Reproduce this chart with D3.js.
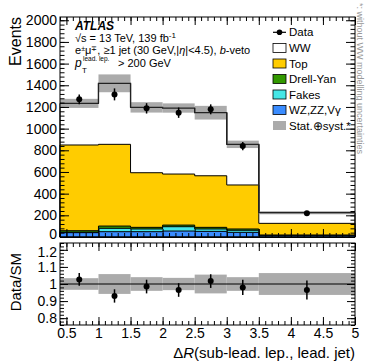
<!DOCTYPE html>
<html>
<head>
<meta charset="utf-8">
<script src="https://cdn.jsdelivr.net/npm/d3@7"></script>
<style>
  body { margin: 0; background: #fff; }
  svg { display: block; font-family: "Liberation Sans", Arial, Helvetica, sans-serif; }
</style>
</head>
<body>
<svg id="chart" width="374" height="363"></svg>
<script>
// bins of Delta R (sub-lead. lep., lead. jet)
var binEdges = [0.4, 1, 1.5, 2, 2.5, 3, 3.5, 5];

// stacked backgrounds, bottom to top
var wzzzvg = [40, 49, 49, 55, 52, 43, 12];
var fakes  = [4, 31, 25, 40, 22, 19, 3];
var drellYan = [14, 21, 15, 15, 15, 12, 3];
var top_   = [791, 754, 504, 471, 476, 406, 108];
var ww     = [384, 563, 603, 609, 582, 375, 98];

// observed data
var dataVals = [1270, 1316, 1187, 1147, 1178, 839, 218];

// relative stat+syst uncertainty of the prediction
var relUnc = [0.034, 0.058, 0.04, 0.036, 0.055, 0.04, 0.064];

// ratio panel
var ratioVals = [1.027, 0.93, 0.985, 0.965, 1.017, 0.98, 0.965];
var ratioErr  = [0.037, 0.039, 0.04, 0.04, 0.04, 0.045, 0.055];

var xTicks = [0.5, 1, 1.5, 2, 2.5, 3, 3.5, 4, 4.5, 5];
var yTicksTop = [0, 200, 400, 600, 800, 1000, 1200, 1400, 1600, 1800, 2000];
var yTicksRatio = [0.8, 0.9, 1, 1.1, 1.2];

var legendItems = [
  { name: "Data", kind: "data" },
  { name: "WW", color: "#ffffff" },
  { name: "Top", color: "#ffcc00" },
  { name: "Drell-Yan", color: "#339900" },
  { name: "Fakes", color: "#45e6e6" },
  { name: "WZ,ZZ,V\u03b3", color: "#3a8cff" },
  { name: "Stat.\u2295syst.*", color: "#ababab", kind: "band" }
];

var svg = d3.select("#chart");

var L = 60, R = 355, T1 = 17, B1 = 237, T2 = 243, B2 = 325;

var x = d3.scaleLinear().domain([0.4, 5]).range([L, R]);
var y = d3.scaleLinear().domain([0, 2030]).range([B1, T1]);
var yr = d3.scaleLinear().domain([0.76, 1.24]).range([B2, T2]);

var nb = dataVals.length;
var centers = d3.range(nb).map(function(i) { return (binEdges[i] + binEdges[i + 1]) / 2; });

// cumulative stacks
var layers = [wzzzvg, fakes, drellYan, top_, ww];
var layerColors = ["#3a8cff", "#45e6e6", "#339900", "#ffcc00", "#ffffff"];
var cum = [];
var run = d3.range(nb).map(function() { return 0; });
layers.forEach(function(l) {
  run = run.map(function(v, i) { return v + l[i]; });
  cum.push(run.slice());
});
var total = cum[cum.length - 1];

function stepPoints(vals) {
  var pts = vals.map(function(v, i) { return [binEdges[i], v]; });
  pts.push([binEdges[nb], vals[nb - 1]]);
  return pts;
}

var area = d3.area()
  .curve(d3.curveStepAfter)
  .x(function(d) { return x(d[0]); })
  .y0(y(0))
  .y1(function(d) { return y(d[1]); });

var line = d3.line()
  .curve(d3.curveStepAfter)
  .x(function(d) { return x(d[0]); })
  .y(function(d) { return y(d[1]); });

var plot = svg.append("g");

// draw from the top layer down so lower layers sit in front
for (var k = cum.length - 1; k >= 0; k--) {
  plot.append("path")
    .attr("d", area(stepPoints(cum[k])))
    .attr("fill", layerColors[k])
    .attr("stroke", "#000")
    .attr("stroke-width", 1);
}

// uncertainty band
plot.selectAll(".band")
  .data(d3.range(nb))
  .enter().append("rect")
  .attr("x", function(i) { return x(binEdges[i]); })
  .attr("width", function(i) { return x(binEdges[i + 1]) - x(binEdges[i]); })
  .attr("y", function(i) { return y(total[i] * (1 + relUnc[i])); })
  .attr("height", function(i) { return y(total[i] * (1 - relUnc[i])) - y(total[i] * (1 + relUnc[i])); })
  .attr("fill", "#ababab");

plot.append("path")
  .attr("d", line(stepPoints(total)))
  .attr("fill", "none")
  .attr("stroke", "#222")
  .attr("stroke-width", 1.2);

// vertical edges of the total outline
plot.selectAll(".edge")
  .data(d3.range(1, nb))
  .enter().append("line")
  .attr("x1", function(i) { return x(binEdges[i]); })
  .attr("x2", function(i) { return x(binEdges[i]); })
  .attr("y1", function(i) { return y(total[i - 1]); })
  .attr("y2", function(i) { return y(total[i]); })
  .attr("stroke", "#222")
  .attr("stroke-width", 1.2);

// data points
plot.selectAll(".derr")
  .data(d3.range(nb))
  .enter().append("line")
  .attr("x1", function(i) { return x(centers[i]); })
  .attr("x2", function(i) { return x(centers[i]); })
  .attr("y1", function(i) { return y(dataVals[i] + ratioErr[i] * total[i]); })
  .attr("y2", function(i) { return y(dataVals[i] - ratioErr[i] * total[i]); })
  .attr("stroke", "#000")
  .attr("stroke-width", 1.5);

plot.selectAll(".dot")
  .data(d3.range(nb))
  .enter().append("circle")
  .attr("cx", function(i) { return x(centers[i]); })
  .attr("cy", function(i) { return y(dataVals[i]); })
  .attr("r", 3)
  .attr("fill", "#000");

// ratio panel
var rat = svg.append("g");
rat.selectAll(".rband")
  .data(d3.range(nb))
  .enter().append("rect")
  .attr("x", function(i) { return x(binEdges[i]); })
  .attr("width", function(i) { return x(binEdges[i + 1]) - x(binEdges[i]); })
  .attr("y", function(i) { return yr(1 + relUnc[i]); })
  .attr("height", function(i) { return yr(1 - relUnc[i]) - yr(1 + relUnc[i]); })
  .attr("fill", "#ababab");

rat.append("line")
  .attr("x1", L).attr("x2", R)
  .attr("y1", yr(1)).attr("y2", yr(1))
  .attr("stroke", "#000").attr("stroke-width", 1.2);

rat.selectAll(".rerr")
  .data(d3.range(nb))
  .enter().append("line")
  .attr("x1", function(i) { return x(centers[i]); })
  .attr("x2", function(i) { return x(centers[i]); })
  .attr("y1", function(i) { return yr(ratioVals[i] + ratioErr[i]); })
  .attr("y2", function(i) { return yr(ratioVals[i] - ratioErr[i]); })
  .attr("stroke", "#000")
  .attr("stroke-width", 1.5);

rat.selectAll(".rdot")
  .data(d3.range(nb))
  .enter().append("circle")
  .attr("cx", function(i) { return x(centers[i]); })
  .attr("cy", function(i) { return yr(ratioVals[i]); })
  .attr("r", 3)
  .attr("fill", "#000");

// axes: ticks point inwards on all four sides
function ticks(axis, tx, ty, labels) {
  var g = svg.append("g").attr("transform", "translate(" + tx + "," + ty + ")").call(axis);
  g.select(".domain").remove();
  g.selectAll("line").attr("stroke", "#000");
  g.selectAll("text").attr("font-size", 14).attr("fill", "#000")
    .attr("font-family", "Liberation Sans, Arial, sans-serif");
  if (!labels) g.selectAll("text").remove();
  return g;
}

var xMinor = d3.range(4, 51).map(function(d) { return d / 10; });
var yMinorTop = d3.range(0, 2030, 40);
var yMinorRatio = d3.range(76, 125, 2).map(function(d) { return d / 100; });

// upper panel
ticks(d3.axisBottom(x).tickValues(xTicks).tickSize(-8), 0, B1, false);
ticks(d3.axisBottom(x).tickValues(xMinor).tickSize(-4), 0, B1, false);
ticks(d3.axisTop(x).tickValues(xTicks).tickSize(-8), 0, T1, false);
ticks(d3.axisTop(x).tickValues(xMinor).tickSize(-4), 0, T1, false);
var yl = ticks(d3.axisLeft(y).tickValues(yTicksTop).tickSize(-9).tickPadding(3).tickFormat(d3.format("d")), L, 0, true);
// the "0" sits just above the ratio panel, as in the original
yl.selectAll("text").filter(function(d) { return d === 0; }).attr("dy", "0.1em");
ticks(d3.axisLeft(y).tickValues(yMinorTop).tickSize(-4.5), L, 0, false);
ticks(d3.axisRight(y).tickValues(yTicksTop).tickSize(-9), R, 0, false);
ticks(d3.axisRight(y).tickValues(yMinorTop).tickSize(-4.5), R, 0, false);

// ratio panel
ticks(d3.axisBottom(x).tickValues(xTicks).tickSize(-8).tickPadding(3).tickFormat(function(d) { return String(d); }), 0, B2, true);
ticks(d3.axisBottom(x).tickValues(xMinor).tickSize(-4), 0, B2, false);
ticks(d3.axisTop(x).tickValues(xTicks).tickSize(-8), 0, T2, false);
ticks(d3.axisTop(x).tickValues(xMinor).tickSize(-4), 0, T2, false);
var rl = ticks(d3.axisLeft(yr).tickValues(yTicksRatio).tickSize(-8).tickPadding(3).tickFormat(function(d) { return String(d); }), L, 0, true);
rl.selectAll("text").filter(function(d) { return d === 1.2; }).attr("dy", "0.45em");
ticks(d3.axisLeft(yr).tickValues(yMinorRatio).tickSize(-4), L, 0, false);
ticks(d3.axisRight(yr).tickValues(yTicksRatio).tickSize(-8), R, 0, false);
ticks(d3.axisRight(yr).tickValues(yMinorRatio).tickSize(-4), R, 0, false);

// frames
svg.append("rect").attr("x", L).attr("y", T1).attr("width", R - L).attr("height", B1 - T1)
  .attr("fill", "none").attr("stroke", "#000").attr("stroke-width", 1);
svg.append("rect").attr("x", L).attr("y", T2).attr("width", R - L).attr("height", B2 - T2)
  .attr("fill", "none").attr("stroke", "#000").attr("stroke-width", 1);

// axis titles
svg.append("text")
  .attr("transform", "translate(21," + T1 + ") rotate(-90)")
  .attr("text-anchor", "end")
  .attr("font-size", 16)
  .text("Events");

svg.append("text")
  .attr("transform", "translate(21,253) rotate(-90)")
  .attr("text-anchor", "end")
  .attr("font-size", 15)
  .text("Data/SM");

var xt = svg.append("text")
  .attr("x", R).attr("y", 358)
  .attr("text-anchor", "end")
  .attr("font-size", 15);
xt.append("tspan").text("\u0394");
xt.append("tspan").attr("font-style", "italic").text("R");
xt.append("tspan").text("(sub-lead. lep., lead. jet)");

// labels
svg.append("text").attr("x", 75).attr("y", 29.5)
  .attr("font-size", 12).attr("font-weight", "bold").attr("font-style", "italic")
  .text("ATLAS");

var l2 = svg.append("text").attr("x", 75).attr("y", 42).attr("font-size", 11);
l2.append("tspan").text("\u221as = 13 TeV, 139 fb");
l2.append("tspan").attr("font-size", 8).attr("dy", -4).text("-1");

var l3 = svg.append("text").attr("x", 75).attr("y", 54).attr("font-size", 11);
l3.append("tspan").text("e");
l3.append("tspan").attr("font-size", 7).attr("dy", -3).text("\u00b1");
l3.append("tspan").attr("dy", 3).text("\u03bc");
l3.append("tspan").attr("font-size", 7).attr("dy", -3).text("\u2213");
l3.append("tspan").attr("dy", 3).text(", \u22651 jet (30 GeV,|");
l3.append("tspan").attr("font-style", "italic").text("\u03b7");
l3.append("tspan").text("|<4.5), ");
l3.append("tspan").attr("font-style", "italic").text("b");
l3.append("tspan").text("-veto");

svg.append("text").attr("x", 75).attr("y", 67).attr("font-size", 12)
  .attr("font-style", "italic").text("p");
svg.append("text").attr("x", 82).attr("y", 73).attr("font-size", 8).text("T");
svg.append("text").attr("x", 83).attr("y", 61).attr("font-size", 6.5).text("lead. lep.");
svg.append("text").attr("x", 118).attr("y", 67).attr("font-size", 11).text("> 200 GeV");

// legend
var legY = [32.3, 48, 63.5, 79, 94.5, 110, 125.5];
var leg = svg.append("g");
legendItems.forEach(function(it, i) {
  var cy = legY[i];
  if (it.kind === "data") {
    leg.append("line").attr("x1", 273).attr("x2", 286).attr("y1", cy).attr("y2", cy)
      .attr("stroke", "#000").attr("stroke-width", 1.2);
    leg.append("circle").attr("cx", 279.5).attr("cy", cy).attr("r", 2.8).attr("fill", "#000");
  } else {
    leg.append("rect").attr("x", 273).attr("y", cy - 4.5).attr("width", 13).attr("height", 9)
      .attr("fill", it.color)
      .attr("stroke", it.kind === "band" ? "none" : "#000").attr("stroke-width", 0.8);
  }
  leg.append("text").attr("x", 289).attr("y", cy + 4).attr("font-size", 11.5).text(it.name);
});

// side note
svg.append("text")
  .attr("transform", "translate(357,3) rotate(90)")
  .attr("font-size", 9)
  .attr("fill", "#999")
  .text("*: without WW modelling uncertainties");
</script>
</body>
</html>
